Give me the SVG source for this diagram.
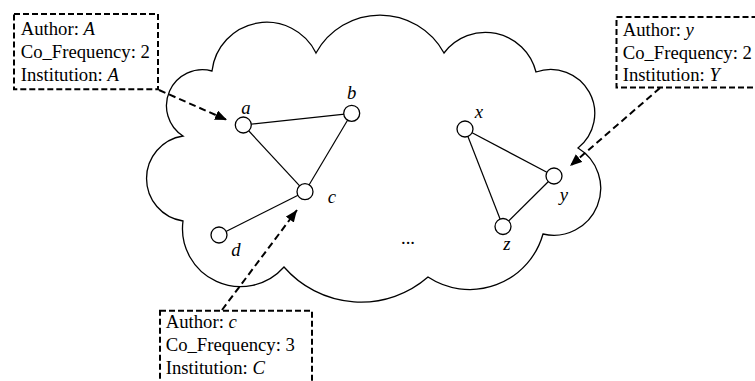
<svg xmlns="http://www.w3.org/2000/svg" width="755" height="381" viewBox="0 0 755 381">
<style>
.bg{fill:#ffffff}
.cloud{fill:#ffffff;stroke:#000;stroke-width:1.3}
.edge{stroke:#000;stroke-width:1.2;fill:none}
.node{fill:#fff;stroke:#000;stroke-width:1.3}
.lbl{font-family:"Liberation Serif","Times New Roman",serif;font-size:18.7px;font-style:italic;fill:#000}
.txt{font-family:"Liberation Serif","Times New Roman",serif;font-size:18.7px;fill:#000}
.txt tspan.i{font-style:italic}
.box{fill:none;stroke:#000;stroke-width:2;stroke-dasharray:6 3}
.arrow{fill:none;stroke:#000;stroke-width:2;stroke-dasharray:7 4}
</style>
<defs>
<marker id="ah" markerUnits="userSpaceOnUse" markerWidth="14" markerHeight="12" refX="12" refY="5" orient="auto">
<path d="M0,0 L12,5 L0,10 Z" fill="#000"/>
</marker>
</defs>
<rect class="bg" x="0" y="0" width="755" height="381"/>
<g id="cloud">
<path class="cloud" d="M212,71 A55,55 0 0 1 316,53 A73,73 0 0 1 444,53 A52,52 0 0 1 536,72 A44,44 0 0 1 578,148 A47,47 0 0 1 543,234 A76,76 0 0 1 428,277 A102,102 0 0 1 284,267 A58,58 0 0 1 183,221 A43,43 0 0 1 183,136 A36,36 0 0 1 212,71 Z"/>
<text class="txt" x="408" y="244" text-anchor="middle">...</text>
</g>
<g id="connectors">
<line class="edge" x1="243.3" y1="125" x2="351.7" y2="113.3"/>
<line class="edge" x1="243.3" y1="125" x2="305" y2="191.7"/>
<line class="edge" x1="351.7" y1="113.3" x2="305" y2="191.7"/>
<line class="edge" x1="305" y1="191.7" x2="219" y2="235"/>
<line class="edge" x1="465" y1="129" x2="554" y2="176"/>
<line class="edge" x1="465" y1="129" x2="503" y2="226.5"/>
<line class="edge" x1="554" y1="176" x2="503" y2="226.5"/>
<path class="arrow" d="M159,90 L227,120" marker-end="url(#ah)"/>
<path class="arrow" d="M222,310 L297,210" marker-end="url(#ah)"/>
<path class="arrow" d="M660,88 L570,166" marker-end="url(#ah)"/>
</g>
<g id="node-a"><circle class="node" cx="243.3" cy="125" r="8"/><text class="lbl" x="246" y="114" text-anchor="middle">a</text></g>
<g id="node-b"><circle class="node" cx="351.7" cy="113.3" r="8"/><text class="lbl" x="351.7" y="99.3" text-anchor="middle">b</text></g>
<g id="node-c"><circle class="node" cx="305" cy="191.7" r="8"/><text class="lbl" x="332" y="202.7" text-anchor="middle">c</text></g>
<g id="node-d"><circle class="node" cx="219" cy="235" r="8"/><text class="lbl" x="236" y="256" text-anchor="middle">d</text></g>
<g id="node-x"><circle class="node" cx="465" cy="129" r="8"/><text class="lbl" x="479" y="118.3" text-anchor="middle">x</text></g>
<g id="node-y"><circle class="node" cx="554" cy="176" r="8"/><text class="lbl" x="564" y="201" text-anchor="middle">y</text></g>
<g id="node-z"><circle class="node" cx="503" cy="226.5" r="8"/><text class="lbl" x="507" y="250" text-anchor="middle">z</text></g>
<g id="info-A">
<rect class="box" x="14" y="14" width="144" height="75.3"/>
<text class="txt" x="20.7" y="35">Author: <tspan class="i">A</tspan></text>
<text class="txt" x="20.7" y="58">Co_Frequency: 2</text>
<text class="txt" x="20.7" y="80.5">Institution: <tspan class="i">A</tspan></text>
</g>
<g id="info-y">
<rect class="box" x="616.5" y="17" width="150" height="70.5"/>
<text class="txt" x="622.7" y="36">Author: <tspan class="i">y</tspan></text>
<text class="txt" x="622.7" y="58.5">Co_Frequency: 2</text>
<text class="txt" x="622.7" y="81">Institution: <tspan class="i">Y</tspan></text>
</g>
<g id="info-c">
<rect class="box" x="160" y="310.7" width="152" height="80"/>
<text class="txt" x="165.7" y="328.3">Author: <tspan class="i">c</tspan></text>
<text class="txt" x="165.7" y="351">Co_Frequency: 3</text>
<text class="txt" x="165.7" y="373.7">Institution: <tspan class="i">C</tspan></text>
</g>
</svg>
